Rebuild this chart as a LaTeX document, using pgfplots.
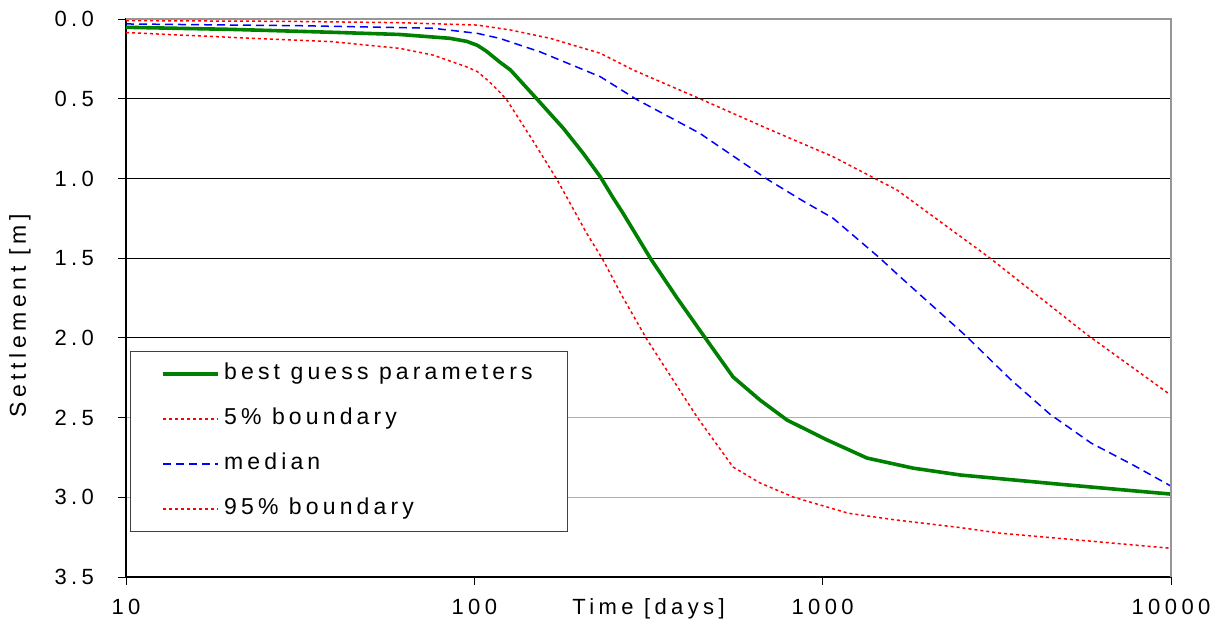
\documentclass[border=0pt]{standalone}
\usepackage{fontspec}
\setmainfont{Liberation Sans}[LetterSpace=10]
\usepackage{pgfplots}
\pgfplotsset{compat=1.18}
\usetikzlibrary{calc}

\definecolor{dgreen}{RGB}{0,128,0}
\definecolor{gridgray}{RGB}{175,175,175}
\definecolor{framegray}{RGB}{150,150,150}

\pgfplotsset{
    bestguess/.style={dgreen, line width=1.8pt},
    bound/.style={red, line width=0.75pt, dash pattern=on 1.5pt off 1.5pt},
    med/.style={blue, line width=0.75pt, dash pattern=on 4pt off 2.5pt},
}

\begin{document}
\begin{tikzpicture}
\begin{axis}[
    width=522.5pt, height=279pt, scale only axis,
    xmode=log, log basis x=10,
    xmin=10, xmax=10000, ymin=0, ymax=3.5, y dir=reverse,
    xtick={10,100,1000,10000}, xticklabels={10,100,1000,10000},
    xminorticks=false,
    ytick={0,0.5,...,3.5},
    yticklabel style={xshift=-8.5pt, /pgf/number format/.cd, fixed, fixed zerofill, precision=1},
    /pgf/number format/assume math mode=true,
    tick label style={font=\fontsize{11}{13}\selectfont\addfontfeature{LetterSpace=20}},
    xticklabel style={yshift=-3.5pt},
    tick align=outside, major tick length=4pt,
    tick style={black, line width=0.5pt},
    ytick pos=left, xtick pos=bottom,
    ymajorgrids, major grid style={gridgray, line width=0.6pt},
    extra y ticks={0.5,1,1.5,2}, extra y tick labels={},
    extra tick style={grid=major, major grid style={black, line width=0.6pt}},
    axis line style={black, line width=0.6pt},
    xlabel={Time [days]},
    xlabel style={at={(axis description cs:0.5,0)}, anchor=north, yshift=-7pt,
        font=\fontsize{11}{13}\selectfont\addfontfeature{LetterSpace=20}},
    ylabel={Settlement [m]},
    ylabel style={at={(axis description cs:-0.1015,0.468)}, anchor=center,
        font=\fontsize{11.5}{13}\selectfont\addfontfeature{LetterSpace=20}},
    legend style={at={(axis description cs:0.004,0.081)}, anchor=south west,
        draw=black!75, fill=white,
        font=\fontsize{11.5}{14}\selectfont\addfontfeature{LetterSpace=18},
        inner xsep=15.5pt, inner ysep=0pt,
        nodes={text height=8.5pt, text depth=2.5pt, inner ysep=5.75pt}},
    legend cell align=left,
    legend image code/.code={\draw[mark repeat=2,mark phase=2,#1] plot coordinates {(0pt,0pt) (13.75pt,0pt) (27.5pt,0pt)};},
]

% best guess parameters
\addplot[bestguess] coordinates {
    (10,0.052) (20,0.065) (40,0.084) (61,0.097) (85,0.121) (95,0.14) (102,0.165)
    (108,0.2) (118,0.268) (127,0.32) (151,0.50) (180,0.685) (205,0.84)
    (230,0.99) (250,1.12) (267,1.217) (320,1.5) (382,1.75) (460,2.0)
    (553,2.245) (661,2.39) (791,2.516) (1029,2.64) (1341,2.754)
    (1818,2.817) (2480,2.86) (4898,2.92) (10000,2.98)
};

% 5% boundary
\addplot[bound] coordinates {
    (10,0.01) (30,0.015) (61,0.023) (102,0.038) (127,0.069) (165,0.121)
    (230,0.215) (286,0.32) (444,0.50) (692,0.686) (1072,0.864)
    (1636,1.073) (3024,1.50) (5741,1.98) (10000,2.36)
};

% median
\addplot[med] coordinates {
    (10,0.031) (31.5,0.042) (76,0.058) (102,0.09) (118,0.121) (154,0.205)
    (230,0.362) (292,0.504) (444,0.717) (692,1.004) (876,1.14) (1072,1.25)
    (1460,1.50) (1655,1.61) (2410,1.93) (2598,1.995) (3460,2.26)
    (4500,2.48) (5900,2.66) (7820,2.80) (10000,2.93)
};

% 95% boundary
\addplot[bound] coordinates {
    (10,0.085) (20,0.115) (39,0.142) (61,0.184) (76,0.226) (95,0.30)
    (102,0.33) (110,0.39) (118,0.456) (124,0.508) (147,0.76) (173,1.01) (210,1.343)
    (234,1.51) (266,1.74) (313,2.01) (437,2.50) (553,2.81) (661,2.91)
    (827,3.0) (1185,3.10) (1594,3.14) (2480,3.19) (3230,3.225)
    (6240,3.28) (10000,3.32)
};

\legend{best guess parameters, 5\% boundary, median, 95\% boundary}
\end{axis}
\draw[framegray, line width=1.2pt] (current axis.north west) -- (current axis.north east) -- (current axis.south east);
\path ($(current axis.south west)+(-63pt,-24pt)$) rectangle ($(current axis.north east)+(24.5pt,9.5pt)$);
\end{tikzpicture}
\end{document}
